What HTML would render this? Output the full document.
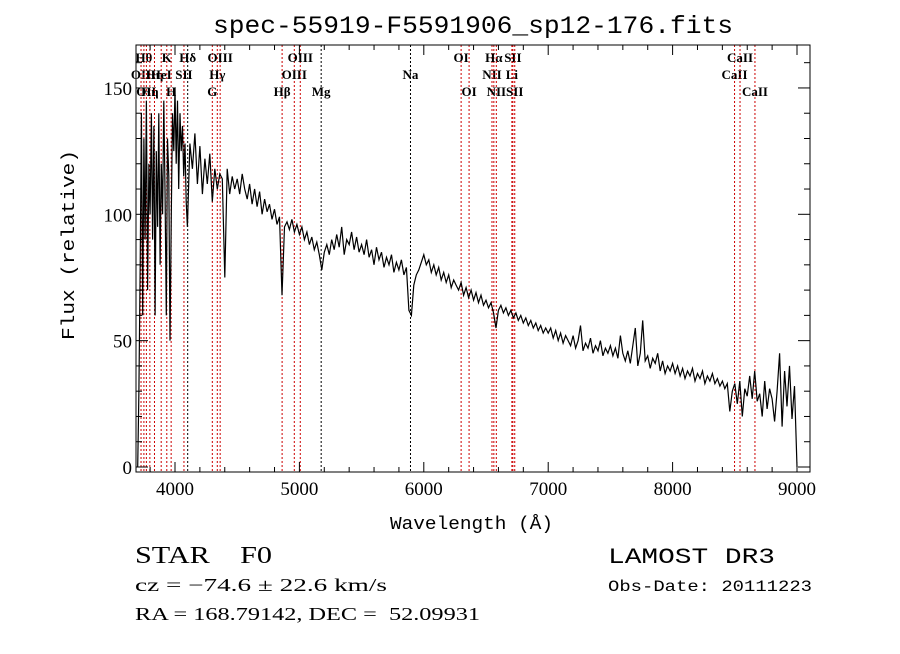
<!DOCTYPE html>
<html><head><meta charset="utf-8"><style>
body{margin:0;background:#fff;}
svg text{font-family:"Liberation Serif",serif;white-space:pre;}
</style></head><body>
<svg id="chart" width="900" height="649" xmlns="http://www.w3.org/2000/svg" xml:space="preserve">
<rect width="900" height="649" fill="#fff"/>
<text x="213" y="33" font-size="25" textLength="520" lengthAdjust="spacingAndGlyphs" style="font-family:'Liberation Mono',monospace">spec-55919-F5591906_sp12-176.fits</text>
<g id="lines"></g>
<g id="axes"></g>
<path id="spec" fill="none" stroke="#000" stroke-width="1.2"/>
<text x="390" y="529" font-size="18" textLength="163" lengthAdjust="spacingAndGlyphs" style="font-family:'Liberation Mono',monospace">Wavelength (Å)</text>
<text transform="translate(74,340) rotate(-90)" font-size="18" textLength="190" lengthAdjust="spacingAndGlyphs" style="font-family:'Liberation Mono',monospace">Flux (relative)</text>
<text x="135" y="563" font-size="24" textLength="137" lengthAdjust="spacingAndGlyphs" style="font-family:'Liberation Serif',serif">STAR    F0</text>
<text x="608" y="563" font-size="22" textLength="167" lengthAdjust="spacingAndGlyphs" style="font-family:'Liberation Mono',monospace">LAMOST DR3</text>
<text x="135" y="591" font-size="18" textLength="252" lengthAdjust="spacingAndGlyphs" style="font-family:'Liberation Serif',serif">cz = −74.6 ± 22.6 km/s</text>
<text x="608" y="591" font-size="16" textLength="204" lengthAdjust="spacingAndGlyphs" style="font-family:'Liberation Mono',monospace">Obs-Date: 20111223</text>
<text x="135" y="620" font-size="18" textLength="345" lengthAdjust="spacingAndGlyphs" style="font-family:'Liberation Serif',serif">RA = 168.79142, DEC =  52.09931</text>
</svg>
<script>
const blueWave=[3700,3710,3720,3730,3740,3750,3760,3770,3780,3790,3800,3810,3820,3830,3840,3850,3860,3870,3880,3890,3900,3910,3920,3930,3940,3950,3960,3970,3980,3990,4000,4010,4020,4030,4040,4050,4060,4070,4080,4090];
const blueFlux=[0,30,80,140,60,130,90,145,70,120,100,140,90,135,60,125,95,140,80,120,100,145,110,60,130,115,50,100,140,125,150,120,145,110,140,125,135,115,128,105];
const redStart=4100, redStep=20;
const redFlux=[95,128,118,132,112,127,108,122,112,124,105,118,110,116,114,75,118,108,115,110,
114,108,116,110,106,112,104,110,103,109,100,106,101,104,98,102,96,99,68,95,97,94,98,93,96,
92,95,90,93,88,91,86,89,84,78,85,88,84,90,86,92,87,95,84,90,88,93,86,91,85,
88,84,90,83,86,80,87,82,85,79,83,80,84,77,81,78,82,76,79,62,60,72,76,78,81,
84,80,82,77,80,76,79,74,77,73,76,71,74,72,70,73,68,71,67,70,66,69,65,68,64,
66,63,65,61,55,62,64,61,63,60,62,59,61,58,60,57,59,56,58,55,57,54,56,53,55,
53,55,51,54,50,53,49,52,50,48,52,47,50,56,46,49,47,51,45,48,46,50,44,47,45,
48,44,47,43,52,45,42,46,41,48,55,40,45,58,42,44,39,43,41,45,38,42,37,40,38,
41,37,40,36,39,35,38,36,39,34,37,35,38,33,36,34,37,33,35,32,34,31,33,22,30,
33,25,34,20,31,28,36,27,38,26,29,20,34,23,31,27,18,30,45,16,38,24,40,19,32,0];
const lineWaves=[3727,3750,3770,3798,3835,3889,3934,3969,4072,4102,4300,4340,4363,4861,4959,5007,5175,5893,6300,6364,6548,6563,6583,6708,6716,6731,8498,8542,8662];
const lineNames=["OII","Hθ","OII","Hη","Hη","HeI","K","H","SII","Hδ","G","Hγ","OIII","Hβ","OIII","OIII","Mg","Na","OI","OI","NII","Hα","NII","Li","SII","SII","CaII","CaII","CaII"];
const lineRows=[1,0,2,2,1,1,0,2,1,0,2,1,0,2,1,0,2,1,0,2,1,0,2,1,0,2,1,0,2];
const xTicks=[4000,5000,6000,7000,8000,9000];
const yTicks=[0,50,100,150];
const L=136,R=810,T=45,B=472;
const X=w=>175+(w-4000)*0.1244;
const Y=f=>467-f*2.527;
const NS="http://www.w3.org/2000/svg";
function mk(tag,attrs,parent){const e=document.createElementNS(NS,tag);for(const k in attrs)e.setAttribute(k,attrs[k]);parent.appendChild(e);return e;}
const ax=document.getElementById('axes');
const frame=mk('rect',{x:L,y:T,width:R-L,height:B-T,fill:'none',stroke:'#000','stroke-width':1},ax);


for(let w=3800;w<=9100;w+=200){const x=X(w);const major=w%1000===0;const h=major?10:5;
 mk('line',{x1:x,x2:x,y1:B,y2:B-h,stroke:'#000'},ax);mk('line',{x1:x,x2:x,y1:T,y2:T+h,stroke:'#000'},ax);}
xTicks.forEach(w=>{const t=mk('text',{x:X(w),y:B+23,'text-anchor':'middle','font-size':19,style:"font-family:'Liberation Serif',serif"},ax);t.textContent=w;
 
 });
for(let f=0;f<=160;f+=10){const y=Y(f);const major=f%50===0;const h=major?12:6;
 mk('line',{x1:L,x2:L+h,y1:y,y2:y,stroke:'#000'},ax);mk('line',{x1:R,x2:R-h,y1:y,y2:y,stroke:'#000'},ax);}
yTicks.forEach(f=>{const t=mk('text',{x:L-4,y:Y(f)+7,'text-anchor':'end','font-size':19,style:"font-family:'Liberation Serif',serif"},ax);t.textContent=f;
 
 });
const lg=document.getElementById('lines');
const black=new Set(["Hδ","Mg","Na"]);
lineWaves.forEach((w,i)=>{const x=X(w);
 const l=mk('line',{x1:x,x2:x,y1:T,y2:B,stroke:black.has(lineNames[i])?'#000':'#c00','stroke-width':1,'stroke-dasharray':'2,2'},lg);
 
 
 const t=mk('text',{x:x,y:62+lineRows[i]*17,'text-anchor':'middle','font-size':13,'font-weight':'bold'},lg);t.textContent=lineNames[i];
 
 });
let d='';blueWave.forEach((w,i)=>{d+=(i?'L':'M')+X(w).toFixed(1)+','+Y(blueFlux[i]).toFixed(1);});
redFlux.forEach((f,i)=>{d+='L'+X(redStart+i*redStep).toFixed(1)+','+Y(f).toFixed(1);});
document.getElementById('spec').setAttribute('d',d);
</script>
</body></html>
